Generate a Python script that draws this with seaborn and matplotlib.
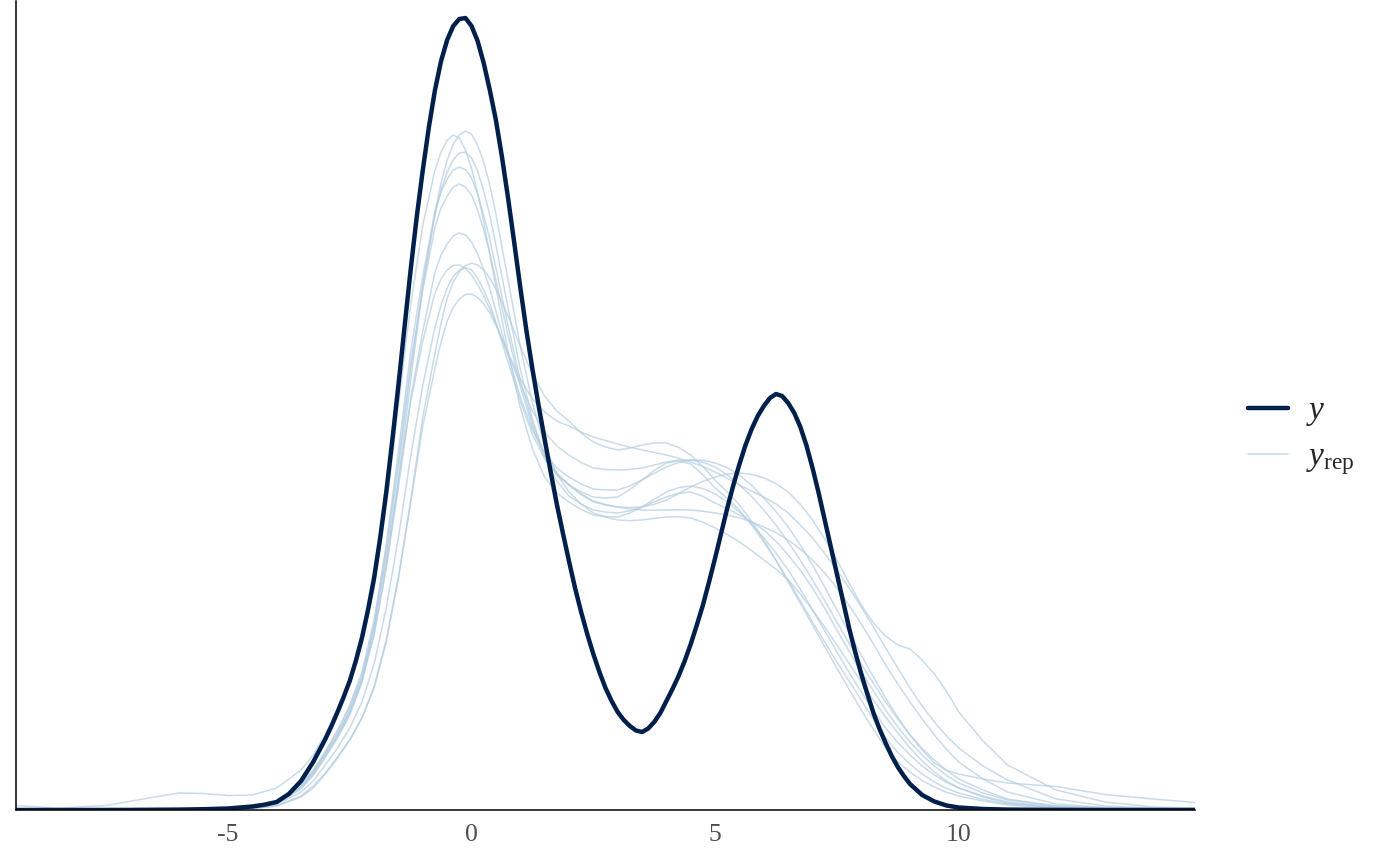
import matplotlib
matplotlib.use("Agg")
import matplotlib.pyplot as plt
from matplotlib.lines import Line2D
import pandas as pd
import seaborn as sns

x_obs = [-9.35, -8.0, -7.0, -6.0, -5.5, -5.0, -4.5, -4.25, -4.0, -3.75, -3.5, -3.25,
         -3.0, -2.875, -2.75, -2.625, -2.5, -2.375, -2.25, -2.125, -2.0, -1.875, -1.75,
         -1.625, -1.5, -1.375, -1.25, -1.125, -1.0, -0.875, -0.75, -0.625, -0.5, -0.375,
         -0.25, -0.125, 0.0, 0.125, 0.25, 0.375, 0.5, 0.625, 0.75, 0.875, 1.0, 1.125,
         1.25, 1.375, 1.5, 1.625, 1.75, 1.875, 2.0, 2.125, 2.25, 2.375, 2.5, 2.625,
         2.75, 2.875, 3.0, 3.125, 3.25, 3.375, 3.5, 3.625, 3.75, 3.875, 4.0, 4.125,
         4.25, 4.375, 4.5, 4.625, 4.75, 4.875, 5.0, 5.125, 5.25, 5.375, 5.5, 5.625,
         5.75, 5.875, 6.0, 6.125, 6.25, 6.375, 6.5, 6.625, 6.75, 6.875, 7.0, 7.125,
         7.25, 7.375, 7.5, 7.625, 7.75, 7.875, 8.0, 8.125, 8.25, 8.375, 8.5, 8.625,
         8.75, 8.875, 9.0, 9.25, 9.5, 9.75, 10.0, 10.5, 11.0, 12.0, 13.0, 14.85]
dens_obs = [0, 0, 0.1, 0.4, 0.8, 1.5, 3.5, 5.3, 8, 16, 29, 48,
            71, 84, 98, 113, 129, 149, 172, 200, 232, 272, 318,
            370, 425, 483, 540, 593, 640, 683, 720, 749, 770, 784,
            791, 792, 784, 769, 747, 720, 690, 653, 612, 568, 523, 480,
            441, 405, 371, 338, 306, 277, 249, 222, 198, 176, 156, 138,
            122, 109, 98, 90, 84, 79.5, 78, 81.4, 88, 97, 109, 121,
            134, 149, 166, 185, 205, 228, 252, 277, 302, 325, 346, 365,
            381, 394, 404, 412, 416, 414, 407, 397, 383, 364.5, 342, 317,
            290, 263, 236, 209, 182, 158, 136, 116, 97, 81, 67, 54,
            43, 34, 26, 15, 8.5, 4.5, 2.5, 1, 0.4, 0.1, 0, 0]

# ---- replicated densities (y_rep) ----
x_rep = [-9.35, -8.5, -7.5, -6.5, -6.0, -5.5, -5.0, -4.5, -4.0, -3.5, -3.25, -3.0,
         -2.75, -2.5, -2.25, -2.0, -1.75, -1.5, -1.25, -1.0, -0.75, -0.625, -0.5,
         -0.375, -0.25, -0.125, 0.0, 0.125, 0.25, 0.375, 0.5, 0.75, 1.0, 1.25, 1.5,
         1.75, 2.0, 2.25, 2.5, 2.75,
         3.0, 3.25, 3.5, 3.75, 4.0, 4.25, 4.5, 4.75, 5.0, 5.25, 5.5, 5.75, 6.0, 6.25,
         6.5, 6.75, 7.0, 7.25, 7.5, 7.75, 8.0,
         8.25, 8.5, 8.75, 9.0, 9.25, 9.5, 9.75, 10.0, 10.5, 11.0, 12.0, 13.0, 14.0, 14.85]
rep_1 = [0.3, 0.2, 0.2, 0.3, 0.5, 0.8, 1.4, 2.6, 6.4, 21, 35, 53, 75, 99, 130,
         176, 243, 330, 429, 523, 598, 627, 650, 666, 675, 679, 676, 665, 648, 625,
         596, 530, 464, 407, 364, 336, 318, 306, 297, 293,
         290, 289.4, 290, 291.6, 293, 293.3, 292, 287.8, 282, 275.5, 268, 259.4, 250,
         240.8, 230, 216, 200, 183, 165, 146.5, 128,
         110, 93, 77, 62, 49, 38, 29, 22, 13, 7, 2.5, 1.2, 0.8, 0.6]
rep_2 = [4.5, 1.8, 4.5, 13, 17, 16.5, 14.5, 15, 22, 40, 55, 76, 100, 128, 165,
         222, 305, 405, 505, 585, 640, 658, 670, 675, 672, 660, 642, 617, 588, 556,
         523, 458, 403, 361, 333, 317, 308, 300.5, 295, 293.5,
         293, 297, 303, 310.8, 318, 322.4, 324, 321.5, 316, 308.1, 298, 285.9, 272,
         256.9, 240, 220.6, 200, 179, 158, 137.6, 118,
         99.5, 82, 67.5, 55, 44, 35, 27.6, 22, 14, 8, 3, 1.5, 1, 0.8]
rep_3 = [0.5, 0.3, 0.3, 0.4, 0.6, 0.9, 1.5, 2.8, 7, 23, 38, 57, 78, 103, 135,
         184, 255, 342, 440, 526, 595, 620, 638, 650.5, 657, 658, 652, 639, 619, 595,
         565, 502, 441, 391, 353, 329, 314, 306, 300, 298,
         297, 299.2, 303, 308.1, 313, 316.8, 318, 313.6, 307, 301.3, 295, 288.3, 280,
         268.6, 255, 239.6, 222, 201.6, 180, 158.8, 138,
         119, 100, 83, 68, 55, 44, 34.6, 27, 17, 10, 4, 2, 1.2, 1.0]
rep_4 = [0.8, 0.4, 0.4, 0.5, 0.7, 1.0, 1.6, 3.0, 7, 22, 35, 53, 72, 95, 128,
         185, 265, 359, 458, 534, 599, 618, 631, 640, 643, 640.5, 632, 616, 595, 571,
         542, 484, 430, 387, 356, 337, 325, 318, 313, 312,
         313, 320.4, 330, 339.6, 347, 349.1, 346, 335.3, 322, 311.5, 300, 285, 268,
         249.6, 230, 209.1, 188, 167.8, 148, 128.9, 110,
         90.5, 72, 57.5, 46, 36, 28, 21.6, 17, 10.5, 6, 2.5, 1.2, 0.8, 0.6]
rep_5 = [1.0, 0.5, 0.4, 0.5, 0.7, 1.0, 1.7, 3, 8, 26, 40, 59, 80, 105, 138,
         190, 263, 350, 446, 520, 583, 602, 614, 623, 626, 623, 615, 600, 580, 557,
         530, 475, 424, 383, 354, 336, 325, 316, 309, 305.5,
         303, 301.1, 300, 299.8, 300, 300.2, 300, 298.8, 297, 294.9, 292, 288, 283,
         277.2, 270, 260.9, 250, 237, 222, 204.8, 186,
         166, 145, 126, 108, 91, 75, 60.7, 48, 31, 18, 6, 2.5, 1.5, 1.2]
rep_6 = [0.6, 0.4, 0.4, 0.5, 0.7, 1.0, 1.7, 3, 7, 24, 37, 55, 73, 96, 128,
         175, 242, 323, 411, 479, 538, 555, 566, 574, 577, 575, 568, 556, 540, 521.5,
         499, 455, 413, 380, 357, 342, 333, 326, 321, 320,
         320, 324.1, 330, 336.7, 343, 347.5, 350, 349.7, 347, 342.3, 335, 324.6, 312,
         298.4, 283, 265, 245, 222.9, 200, 177.4, 155,
         133, 112, 92.7, 75, 60, 47, 39.5, 36, 31, 27, 23.5, 15.5, 11, 7.5]
rep_7 = [0.3, 0.2, 0.2, 0.2, 0.3, 0.5, 0.9, 1.5, 4, 13, 22, 36, 52, 70, 92,
         122, 168, 232, 309, 393, 457, 487, 512, 528, 538, 544.5, 547, 545, 540, 532,
         521, 494, 464, 436, 414, 399, 389, 377, 368, 363,
         360, 361.9, 365, 367.1, 367, 362.7, 355, 343.3, 330, 318.1, 305, 288.6, 270,
         249.5, 228, 206.6, 185, 163.4, 142, 120.7, 100,
         80.5, 62, 48, 38, 29.4, 23, 17.7, 14, 9, 5, 2, 1, 0.7, 0.5]
rep_8 = [1.5, 0.6, 0.5, 0.5, 0.8, 1.2, 2.0, 3.5, 8, 26, 39, 57, 75, 99, 132,
         182, 250, 328, 408, 469, 517, 531, 540, 544.5, 545, 541.5, 535, 525.5, 514, 501,
         486, 457, 431, 411, 398, 389, 384, 378, 373, 369.5,
         366, 362.9, 360, 357.6, 355, 351.8, 348, 343.4, 338, 331.6, 325, 319, 313,
         306, 297, 285, 272, 256.6, 240, 222.1, 203,
         183, 162, 142, 122, 104, 88, 74, 62, 44, 30, 11, 4, 2, 1.5]
rep_9 = [0.4, 0.3, 0.3, 0.3, 0.5, 0.7, 1.2, 2, 5.4, 18, 29, 45, 62, 82, 108,
         146, 202, 273, 353, 425, 483, 505, 522, 533.5, 540, 542.5, 540, 532, 520, 506,
         488, 448, 409, 376, 351, 335, 325, 315.5, 308, 305,
         303, 302.5, 303, 305.7, 310, 316.3, 323, 328.6, 333, 335.9, 337, 335.6, 332,
         326.4, 318, 305.6, 290, 271.1, 250, 226.9, 205,
         187, 174, 165, 161, 150, 136, 118.6, 98, 69, 45, 20, 8, 3, 2]
rep_10 = [0.3, 0.2, 0.2, 0.2, 0.3, 0.5, 0.9, 1.5, 4, 14, 24, 37, 53, 70, 92,
          123, 170, 233, 307, 384, 442, 468, 489, 502.5, 511, 515.5, 516, 512.5, 506, 497,
          485, 456, 426, 399, 378, 364, 355, 347.5, 342, 340.5,
          340, 340.5, 342, 345, 348, 349.8, 350, 347.8, 343, 335.1, 325, 313.4, 300,
          284.8, 268, 249.6, 230, 209.3, 188, 166.8, 146,
          126.5, 108, 91, 75, 61.5, 50, 39.7, 31, 20, 11, 4, 2, 1.2, 1]
reps = [rep_1, rep_2, rep_3, rep_4, rep_5, rep_6, rep_7, rep_8, rep_9, rep_10]
assert len(x_obs) == len(dens_obs), (len(x_obs), len(dens_obs))
for i, r in enumerate(reps):
    assert len(r) == len(x_rep), (i, len(r), len(x_rep))

x_ticks = [-5, 0, 5, 10]
x_tick_labels = ["-5", "0", "5", "10"]
legend_labels = [r"$y$", r"$y_{\mathrm{rep}}$"]

# ---- styling ----
sns.set_theme(style="white")
plt.rcParams["font.family"] = ["Liberation Serif", "DejaVu Serif"]
plt.rcParams["mathtext.fontset"] = "custom"
plt.rcParams["mathtext.it"] = "Liberation Serif:italic"
plt.rcParams["mathtext.rm"] = "Liberation Serif"

DARK = "#011f4b"
LIGHT = "#b3cde0"

fig = plt.figure(figsize=(14, 8.66), dpi=100)
fig.patch.set_facecolor("white")
ax = fig.add_axes([16 / 1400, 56 / 866, 1179 / 1400, 809 / 866])

rep_df = pd.concat(
    [pd.DataFrame({"x": x_rep, "density": vals, "draw": i}) for i, vals in enumerate(reps)],
    ignore_index=True,
)
obs_df = pd.DataFrame({"x": x_obs, "density": dens_obs})

sns.lineplot(data=rep_df, x="x", y="density", units="draw", estimator=None,
             color=LIGHT, alpha=0.7, lw=1.1, ax=ax, legend=False,
             solid_joinstyle="round")
sns.lineplot(data=obs_df, x="x", y="density", estimator=None,
             color=DARK, lw=3.2, ax=ax, legend=False,
             solid_joinstyle="round", solid_capstyle="round")

ax.set_xlim(-9.35, 14.85)
ax.set_ylim(0, 809)
ax.set_xticks(x_ticks)
ax.set_xticklabels(x_tick_labels)
ax.set_yticks([])
ax.set_xlabel("")
ax.set_ylabel("")
for s in ["top", "right"]:
    ax.spines[s].set_visible(False)
for s in ["left", "bottom"]:
    ax.spines[s].set_color("black")
    ax.spines[s].set_linewidth(1.1)
ax.tick_params(axis="x", length=5.5, width=0.8, color="#333333",
               labelcolor="#4d4d4d", labelsize=18.5, pad=4.5)

handles = [Line2D([], [], color=DARK, lw=3.2),
           Line2D([], [], color=LIGHT, alpha=0.7, lw=1.1)]
ax.legend(handles, legend_labels, loc="center left",
          bbox_to_anchor=(1248 / 1400, 1 - 436.5 / 866), bbox_transform=fig.transFigure,
          frameon=False, fontsize=24, handlelength=1.2, handletextpad=0.55,
          labelspacing=0.4, borderpad=0, borderaxespad=0)

fig.savefig("out.png", dpi=100, facecolor="white")
